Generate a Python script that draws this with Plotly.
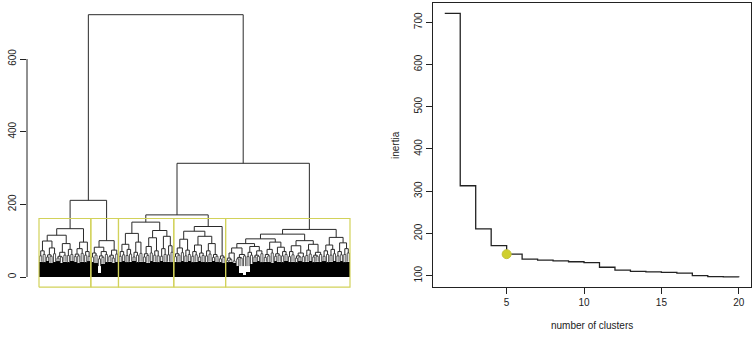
import plotly.graph_objects as go

# ---------------- data ----------------
# inertia gain curve (right panel)
n_clusters = list(range(1, 21))
inertia = [721, 313, 211, 171, 151, 139, 137, 135, 133, 131,
           120, 113, 110, 109, 108, 106, 100, 98, 97, 96]
chosen_k = 5

# dendrogram (left panel): nested [height, left, right]; numbers = leaf bundle fork heights
cluster_A = [133,
             [115, [99, [72, 58, 62], [80, [61, 55, 57], 64]],
                   [92, [68, [57, 52, 55], 60], [76, 59, 62]]],
             [96, [78, [63, 56, 58], 65], [70, 60, 57]]]
cluster_B = [100,
             [82, [66, 55, 60], [70, [58, 50, 54], 62]],
             [74, [60, 56, 52], 63]]
cluster_C = [151,
             [120, [90, [70, 57, 61], [76, 59, 63]], [96, [68, 55, 60], 65]],
             [128, [108, [84, [64, 55, 59], 66], [72, 60, 58]],
                   [112, [78, 57, 62], [86, 61, 68]]]]
cluster_D = [139,
             [126, [104, [80, [64, 56, 60], 67], [74, 58, 62]],
                   [112, [88, [70, 57, 61], [66, 55, 59]], [92, [72, 58, 63], [62, 54, 57]]]],
             [58, 50, 54]]
cluster_E = [131,
             [118,
              [105,
               [92,
                [80, [66, [52, 46, 48], 44], [62, [54, 50, 52], 58]],
                [84, [68, 56, 60], [72, [60, 55, 57], 64]]],
               [96, [76, [62, 54, 58], 66], [82, [64, 57, 60], [70, 58, 62]]]],
              [100, [86, [70, 56, 61], [66, [58, 52, 55], 56]],
                    [90, [74, 59, 63], [68, [60, 55, 57], 62]]]],
             [109, [88, [72, 57, 62], [76, 60, 64]], [94, [70, 58, 61], [78, 62, 66]]]]

# height of the dense black leaf mass under each bundle
mass_A = [42, 40, 44, 38, 41, 43, 39, 42, 40, 44, 41, 38, 42, 40, 43]
mass_B = [40, 38, 12, 36, 40, 42, 39, 41]
mass_C = [41, 43, 40, 42, 44, 40, 42, 41, 39, 43, 42, 40, 44, 41, 42, 40]
mass_D = [42, 40, 43, 41, 44, 40, 42, 43, 41, 40, 42, 44, 41, 40, 38]
mass_E = [40, 42, 39, 30, 10, 3, 14, 36, 41, 43, 40, 42, 41, 39, 43, 42, 40, 44,
          41, 42, 40, 43, 41, 42, 44, 40, 42, 41, 43, 40, 42, 44, 41, 43, 40, 42]

merge_AB = 211
merge_CD = 171
merge_CDE = 313
merge_root = 722
rect_top = 161
rect_bottom = -28

y_ticks_left = [0, 200, 400, 600]
y_ticks_right = [100, 200, 300, 400, 500, 600, 700]
x_ticks_right = [5, 10, 15, 20]

# ---------------- build dendrogram geometry ----------------
clusters = [cluster_A, cluster_B, cluster_C, cluster_D, cluster_E]
masses = [mass_A, mass_B, mass_C, mass_D, mass_E]
mass_all = [m for ms in masses for m in ms]
tree = [merge_root, [merge_AB, cluster_A, cluster_B],
        [merge_CDE, [merge_CD, cluster_C, cluster_D], cluster_E]]


def count_leaves(node):
    if isinstance(node, (int, float)):
        return 1
    return count_leaves(node[1]) + count_leaves(node[2])


lx, ly = [], []   # link lines
fx, fy = [], []   # small forks of the leaf bundles
counter = [0]


def draw(node):
    if isinstance(node, (int, float)):
        counter[0] += 1
        x = counter[0]
        m = mass_all[x - 1]
        if m < 30:
            m = 30
        fx.extend([x - 0.3, x - 0.3, x + 0.3, x + 0.3, None])
        fy.extend([m, node, node, m, None])
        return x, node
    h, l, r = node
    xl, hl = draw(l)
    xr, hr = draw(r)
    lx.extend([xl, xl, xr, xr, None])
    ly.extend([hl, h, h, hr, None])
    return (xl + xr) / 2, h


draw(tree)
N = counter[0]

fig = go.Figure()

fig.add_trace(go.Bar(x=list(range(1, N + 1)), y=mass_all, width=1.0,
                     marker=dict(color="black", line=dict(width=0)),
                     xaxis="x", yaxis="y", showlegend=False, hoverinfo="skip"))
fig.add_trace(go.Scatter(x=fx, y=fy, mode="lines", line=dict(color="#555555", width=1),
                         xaxis="x", yaxis="y", showlegend=False, hoverinfo="skip"))
fig.add_trace(go.Scatter(x=lx, y=ly, mode="lines", line=dict(color="#2a2a2a", width=1),
                         xaxis="x", yaxis="y", showlegend=False, hoverinfo="skip"))

# rectangles around the 5 clusters
start = 1
rx, ry = [], []
for c in clusters:
    n = count_leaves(c)
    a, b = start - 0.5, start + n - 1 + 0.5
    rx.extend([a, b, b, a, a, None])
    ry.extend([rect_bottom, rect_bottom, rect_top, rect_top, rect_bottom, None])
    start += n
fig.add_trace(go.Scatter(x=rx, y=ry, mode="lines", line=dict(color="#d2d25a", width=1.2),
                         xaxis="x", yaxis="y", showlegend=False, hoverinfo="skip"))

# right panel: inertia step curve
fig.add_trace(go.Scatter(x=n_clusters, y=inertia, mode="lines",
                         line=dict(color="#222222", width=1.3, shape="hv"),
                         xaxis="x2", yaxis="y2", showlegend=False))
fig.add_trace(go.Scatter(x=[chosen_k], y=[inertia[chosen_k - 1]], mode="markers",
                         marker=dict(color="#cfcf2e", size=9, line=dict(color="#c2c23a", width=1)),
                         xaxis="x2", yaxis="y2", showlegend=False))

W, H = 756, 339
top_px, bot_px = 3, 296
ph = bot_px - top_px
u = 311.0 / N
left_range = [0.5 - 12 / u, N + 0.5 + 10 / u]

tickfont = dict(family="Liberation Sans, Arial, sans-serif", size=10, color="#222222")
labfont = dict(family="Liberation Sans, Arial, sans-serif", size=10, color="#222222")

fig.update_layout(
    width=W, height=H,
    margin=dict(l=0, r=0, t=top_px, b=H - bot_px),
    paper_bgcolor="white", plot_bgcolor="white",
    bargap=0,
    showlegend=False,
    xaxis=dict(domain=[27 / W, 360 / W], range=left_range, visible=False),
    yaxis=dict(domain=[0, 1], range=[-52.3, 754.2], tickvals=y_ticks_left,
               ticks="outside", ticklen=6, tickcolor="#222222", tickangle=-90,
               showgrid=False, zeroline=False, showline=False, tickfont=tickfont),
    xaxis2=dict(domain=[433 / W, 750.5 / W], range=[0.24, 20.76], tickvals=x_ticks_right,
                ticks="outside", ticklen=6, tickcolor="#222222",
                showgrid=False, zeroline=False, showline=True, mirror=True,
                linecolor="#222222", linewidth=1, tickfont=tickfont, anchor="y2"),
    yaxis2=dict(domain=[(bot_px - 287) / ph, (bot_px - 3.3) / ph], range=[73.2, 745],
                tickvals=y_ticks_right, ticks="outside", ticklen=6, tickcolor="#222222",
                tickangle=-90, showgrid=False, zeroline=False, showline=True, mirror=True,
                linecolor="#222222", linewidth=1, tickfont=tickfont, anchor="x2"),
    shapes=[dict(type="line", xref="paper", yref="y", x0=27 / W, x1=27 / W, y0=0, y1=600,
                 line=dict(color="#222222", width=1))],
    annotations=[
        dict(text="inertia", xref="paper", yref="paper", x=395 / W, y=(bot_px - 145) / ph,
             xanchor="center", yanchor="middle",
             showarrow=False, textangle=-90, font=labfont),
        dict(text="number of clusters", xref="paper", yref="paper", x=591.5 / W,
             y=(bot_px - 325.7) / ph, xanchor="center", yanchor="middle",
             showarrow=False, font=labfont),
    ],
)

fig.write_html("out.html", config={"displayModeBar": False},
               post_script="document.body.style.margin='0';document.body.style.overflow='hidden';")
